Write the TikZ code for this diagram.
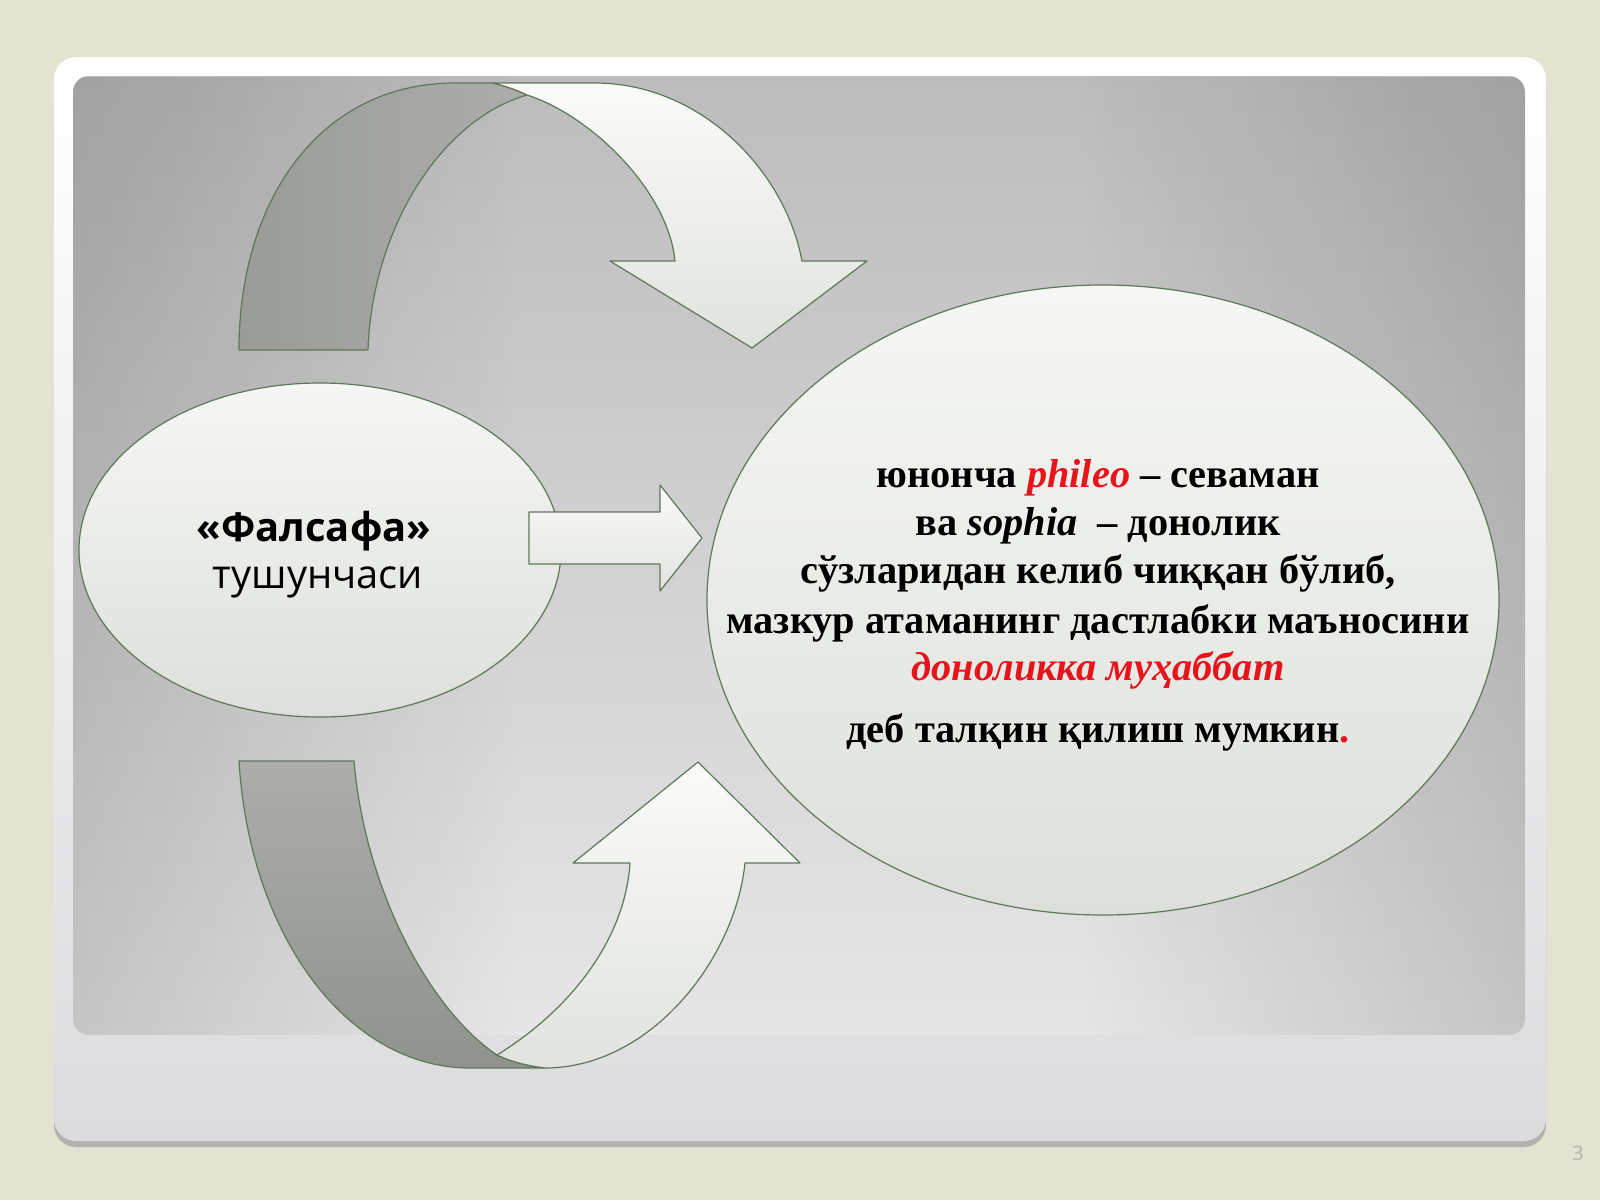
\documentclass[tikz,border=0pt]{standalone}
\usepackage{fontspec}
\setmainfont{Liberation Serif}
\newfontfamily\lsans{Open Sans}
\usetikzlibrary{shapes.geometric,fadings}
\definecolor{bgbeige}{HTML}{E4E2D1}
\definecolor{cardshadow}{HTML}{B2B2AE}
\definecolor{cardbottom}{HTML}{DCDCDE}
\definecolor{paneltop}{HTML}{BCBCBC}
\definecolor{panelmid}{HTML}{D0D0D0}
\definecolor{panelbot}{HTML}{E6E6E6}
\definecolor{edgegreen}{HTML}{5E7759}
\definecolor{elltop}{HTML}{F6F7F4}
\definecolor{ellbot}{HTML}{DDE0DA}
\definecolor{lighttop}{HTML}{FBFBF9}
\definecolor{lightbot}{HTML}{E0E3DE}
\definecolor{darkA}{HTML}{ADADAB}
\definecolor{darkB}{HTML}{999C97}
\definecolor{darkC}{HTML}{8E938C}
\definecolor{pagenum}{HTML}{B4B4AC}
\definecolor{txtred}{HTML}{E8141C}
\tikzfading[name=sidefadeR, left color=transparent!0, right color=transparent!100]
\tikzfading[name=sidefadeL, left color=transparent!100, right color=transparent!0]
\begin{document}
\begin{tikzpicture}[x=1bp,y=-1bp,
  outl/.style={draw=edgegreen,line width=1.2bp,line join=round},
  ellbox/.style={ellipse,outl,inner sep=0pt,top color=elltop,bottom color=ellbot},
  lightband/.style={outl,top color=lighttop,bottom color=lightbot},
  darkband/.style={outl,left color=darkB,right color=darkA},
  darkbandlow/.style={outl,top color=darkA,bottom color=darkC},
  serifline/.style={anchor=base,inner sep=0pt,font=\fontsize{40.5}{48}\selectfont\bfseries},
  sansline/.style={anchor=base,inner sep=0pt}]
\useasboundingbox (0,0) rectangle (1600,1200);
\fill[bgbeige] (0,0) rectangle (1600,1200);
% card
\fill[cardshadow,rounded corners=22bp] (54,64) rectangle (1546,1147);
\shade[top color=white,bottom color=cardbottom,rounded corners=22bp] (54,57) rectangle (1546,1141);
% panel
\begin{scope}
  \clip[rounded corners=16bp] (73,76) rectangle (1525,1035);
  \shade[top color=paneltop,middle color=panelmid,bottom color=panelbot] (73,76) rectangle (1525,1035);
  \fill[black,fill opacity=0.14,path fading=sidefadeR] (73,76) rectangle (520,1035);
  \fill[black,fill opacity=0.14,path fading=sidefadeL] (1080,76) rectangle (1525,1035);
\end{scope}
% top curved arrow
\path[darkband] (239,350) .. controls (239,200) and (320,83) .. (455,83) -- (493,83)
  .. controls (505,86) and (517,90) .. (527,95)
  .. controls (440,120) and (372,230) .. (368,350) -- cycle;
\path[lightband] (493,83) -- (595,83) .. controls (700,83) and (785,170) .. (802,261)
  -- (867,261) -- (752,348) -- (610,261) -- (675,261)
  .. controls (668,190) and (590,115) .. (527,95)
  .. controls (517,90) and (505,86) .. (493,83) -- cycle;
% bottom curved arrow
\path[darkbandlow] (239,761) -- (354,761) .. controls (365,890) and (430,1010) .. (497,1055)
  .. controls (512,1062) and (528,1066) .. (545,1068) -- (470,1068)
  .. controls (350,1068) and (250,940) .. (239,761) -- cycle;
\path[lightband] (497,1055) .. controls (570,1010) and (625,940) .. (630,863)
  -- (573,863) -- (698,762) -- (800,863) -- (745,863)
  .. controls (735,960) and (650,1068) .. (545,1068)
  .. controls (528,1066) and (512,1062) .. (497,1055) -- cycle;
% left ellipse
\node[ellbox,minimum width=482bp,minimum height=334bp] (concept) at (320,550) {};
\node[sansline,font=\lsans\fontsize{40}{48}\selectfont\bfseries] (cname) at (314,541) {«Фалсафа»};
\node[sansline,font=\lsans\fontsize{40}{48}\selectfont] (cword) at (318,588) {тушунчаси};
% middle arrow
\path[lightband] (529,512) -- (660,512) -- (660,485) -- (702,538) -- (660,591) -- (660,564) -- (529,564) -- cycle;
% right ellipse
\node[ellbox,minimum width=792bp,minimum height=630bp] (meaning) at (1103,600) {};
\node[serifline] (l1) at (1098,487) {юнонча {\color{txtred}\itshape phileo} – севаман};
\node[serifline] (l2) at (1098,535) {ва {\itshape sophia}\ \ – донолик};
\node[serifline] (l3) at (1098,583) {сўзларидан келиб чиққан бўлиб,};
\node[serifline] (l4) at (1098,633) {мазкур атаманинг дастлабки маъносини};
\node[serifline] (l5) at (1098,680) {{\color{txtred}\itshape доноликка муҳаббат}};
\node[serifline] (l6) at (1098,742) {деб талқин қилиш мумкин{\color{txtred}.}};
% page number
\node[sansline,font=\lsans\fontsize{20}{24}\selectfont,text=pagenum] (pnum) at (1578,1160) {3};
\end{tikzpicture}
\end{document}
